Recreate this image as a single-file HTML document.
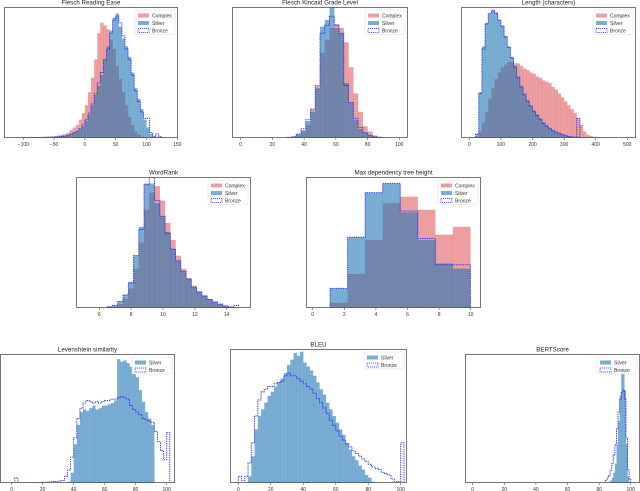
<!DOCTYPE html>
<html><head><meta charset="utf-8"><style>
html,body{margin:0;padding:0;background:#fff;}
svg{display:block;font-family:"Liberation Sans",sans-serif;}
</style></head><body>
<svg id="fig" width="640" height="491" viewBox="0 0 640 491"></svg>
<script>
// ---- data (bin heights as fraction of axis height) ----
const freStart=-100, freWidth=5;
const freComplex=[.005,.005,.005,.005,.005,.007,.008,.01,.01,.012,.015,.02,.025,.03,.04,.06,.08,.1,.14,.19,.25,.35,.46,.6,.8,.88,.86,.83,.75,.68,.55,.45,.35,.25,.16,.1,.05,.025,.01,.005,.003];
const freSilver=[0,0,0,0,0,0,.002,.003,.004,.006,.008,.01,.012,.015,.02,.03,.04,.05,.07,.09,.13,.18,.25,.33,.4,.48,.6,.7,.82,.92,.95,.85,.76,.7,.62,.5,.38,.3,.22,.14,.08,.03,.01,.005];
const freBronze=[.003,.003,.003,.003,.004,.004,.005,.005,.006,.007,.008,.01,.012,.015,.02,.03,.04,.05,.07,.1,.14,.19,.26,.34,.42,.5,.6,.68,.8,.9,.93,.88,.78,.68,.6,.48,.36,.28,.2,.15,.15,.04,.01,.03,.01];

const fkStart=29, fkWidth=3;
const fkComplex=[.005,.01,.02,.05,.1,.22,.4,.65,.75,.84,.87,.84,.73,.54,.34,.2,.09,.05,.02,.01,.005];
const fkSilver=[.005,.01,.03,.06,.13,.2,.38,.85,.9,1.0,.84,.8,.42,.27,.14,.07,.04,.02,.01,.005];
const fkBronze=[.005,.01,.03,.07,.14,.22,.4,.8,.86,.93,.86,.8,.4,.27,.15,.08,.04,.02,.01,.005];

const lenStart=0, lenWidth=10;
const lenComplex=[0,0,.01,.05,.12,.2,.3,.38,.45,.5,.54,.56,.58,.58,.57,.57,.55,.53,.52,.5,.49,.47,.46,.44,.43,.42,.39,.37,.34,.31,.28,.25,.22,.19,.15,.1,.05,.025,.015,.01,.008,.005,.004,.003,.002,.001];
const lenSilver=[0,0,.03,.35,.7,.88,.95,.98,.96,.9,.86,.78,.7,.62,.55,.47,.4,.34,.29,.25,.21,.18,.15,.12,.1,.08,.06,.05,.04,.03,.02,.015,.01,.008,.005];
const lenBronze=[0,0,.03,.34,.68,.87,.95,.97,.95,.9,.85,.77,.69,.61,.54,.46,.39,.33,.28,.24,.2,.17,.14,.11,.09,.07,.055,.045,.035,.025,.018,.012,.009,.006,.15];

const wrStart=6.5, wrWidth=0.33;
const wrComplex=[.005,.01,.03,.07,.15,.3,.5,.75,.88,.93,.82,.65,.52,.4,.3,.23,.17,.13,.1,.07,.05,.03,.02,.01,.005];
const wrSilver=[.01,.02,.05,.1,.2,.4,.62,.95,.95,.8,.7,.58,.45,.36,.28,.22,.16,.12,.09,.065,.045,.03,.015,.008,.004];
const wrBronze=[.01,.02,.05,.1,.19,.4,.6,.94,1.0,.82,.7,.57,.45,.36,.28,.22,.16,.12,.09,.065,.045,.03,.015,.008,.02];

const mdStart=1.1, mdWidth=1.11;
const mdComplex=[.04,.26,.52,.8,.85,.75,.56,.62];
const mdSilver=[.15,.54,.88,.95,.73,.52,.34,.3];
const mdBronze=[.15,.54,.88,.95,.74,.53,.33,.33];

const levStart=36, levWidth=2;
const levSilver=[.01,.08,.3,.45,.55,.57,.56,.58,.6,.57,.58,.6,.6,.61,.62,.64,.96,.94,.95,.93,.9,.86,.82,.72,.63,.55,.5,.45];
const levBStart=0, levBWidth=2;
const levBronze=[.002,.04,0,0,0,0,0,0,0,.002,.005,.006,.008,.01,.012,.015,.02,.05,.1,.2,.35,.5,.58,.62,.64,.63,.62,.63,.62,.63,.64,.64,.65,.65,.66,.67,.66,.65,.6,.57,.55,.53,.5,.49,.48,.47,.4,.32,.25,.18,.39];

const bleuStart=6, bleuWidth=2;
const bleuSilver=[.05,.2,.4,.5,.55,.6,.65,.68,.72,.75,.78,.82,.88,.92,.97,.95,.98,.9,.87,.84,.8,.75,.7,.66,.6,.55,.5,.45,.4,.36,.3,.25,.2,.17,.13,.1,.06,.04,.01];
const bleuBStart=0, bleuBWidth=2;
const bleuBronze=[.05,.02,.05,.15,.3,.5,.62,.68,.7,.72,.72,.74,.75,.76,.8,.82,.8,.8,.78,.76,.74,.72,.7,.67,.63,.6,.56,.52,.47,.43,.39,.35,.32,.29,.27,.24,.22,.2,.18,.16,.14,.12,.11,.1,.08,.07,.06,.03,.01,.01,.3];

const bsStart=84, bsWidth=1;
const bsSilver=[0,0,.01,.02,.04,.08,.15,.3,.48,.68,.88,.95,.72,.3,.05];
const bsBronze=[.02,.04,.06,.1,.15,.22,.3,.42,.55,.65,.7,.72,.65,.35,.1,.03];

// ---- drawing ----
const NS='http://www.w3.org/2000/svg';
const svg=document.getElementById('fig');
const C_RED='rgba(214,39,40,0.45)', C_BLUE='rgba(31,119,180,0.6)';
function mk(tag,attrs,parent){const e=document.createElementNS(NS,tag);for(const k in attrs)e.setAttribute(k,attrs[k]);(parent||svg).appendChild(e);return e;}

function chart(cfg){
  const g=mk('g',{});
  
  
  const sx=v=>cfg.xp0+(v-cfg.xv0)*(cfg.xp1-cfg.xp0)/(cfg.xv1-cfg.xv0);
  const sy=f=>cfg.y1-f*(cfg.y1-cfg.y0);
  // clip
  const cid='c'+cfg.name;
  const cp=mk('clipPath',{id:cid},g);mk('rect',{x:cfg.x0,y:cfg.y0,width:cfg.x1-cfg.x0,height:cfg.y1-cfg.y0},cp);
  const body=mk('g',{'clip-path':'url(#'+cid+')'},g);
  cfg.series.forEach(s=>{
    if(s.kind==='fill'){
      const sg=mk('g',{fill:s.color},body);
      
      
      s.data.forEach((v,i)=>{
        if(v<=0)return;
        const a=sx(s.start+i*s.width), b=sx(s.start+(i+1)*s.width);
        const r=mk('rect',{x:a.toFixed(2),y:sy(v).toFixed(2),width:(b-a+0.15).toFixed(2),height:(cfg.y1-sy(v)).toFixed(2)},sg);
        
        
      });
    } else {
      let d='M'+sx(s.start).toFixed(2)+','+cfg.y1;
      s.data.forEach((v,i)=>{
        d+=' L'+sx(s.start+i*s.width).toFixed(2)+','+sy(v).toFixed(2)+' L'+sx(s.start+(i+1)*s.width).toFixed(2)+','+sy(v).toFixed(2);
      });
      d+=' L'+sx(s.start+s.data.length*s.width).toFixed(2)+','+cfg.y1;
      const p=mk('path',{d:d,fill:'none',stroke:'#2a2aff','stroke-width':'0.9','stroke-dasharray':'1.4,0.9'},body);
      
      
    }
  });
  // frame
  const fr=mk('rect',{x:cfg.x0+0.5,y:cfg.y0+0.5,width:cfg.x1-cfg.x0-1,height:cfg.y1-cfg.y0-1,fill:'none',stroke:'#555','stroke-width':'0.8'},g);
  
  
  // title
  const t=mk('text',{x:(cfg.x0+cfg.x1)/2,y:cfg.y0-2.5,'text-anchor':'middle','font-size':'6.2',fill:'#222'},g);
  t.textContent=cfg.title;
  
  
  // ticks
  cfg.ticks.forEach(v=>{
    const x=sx(v);
    const tk=mk('line',{x1:x,x2:x,y1:cfg.y1,y2:cfg.y1+2,stroke:'#555','stroke-width':'0.6'},g);
    
    
    const tl=mk('text',{x:x,y:cfg.y1+8,'text-anchor':'middle','font-size':'5',fill:'#333'},g);
    tl.textContent=(v<0?'\u2212'+(-v):String(v));
    
    
  });
  // legend
  const n=cfg.series.length;
  const lw=40, lh=n*7.5+2, lx=cfg.x1-lw-3, ly=cfg.y0+3;
  const lg=mk('g',{},g);
  
  
  mk('rect',{x:lx,y:ly,width:lw,height:lh,fill:'rgba(255,255,255,0.85)',stroke:'#ddd','stroke-width':'0.5',rx:1},lg);
  cfg.series.forEach((s,i)=>{
    const yy=ly+2+i*7.5;
    const e=mk('g',{},lg);
    
    
    if(s.kind==='fill') mk('rect',{x:lx+3,y:yy+1.5,width:11,height:4,fill:s.color},e);
    else mk('rect',{x:lx+3,y:yy+1.5,width:11,height:4,fill:'none',stroke:'#2a2aff','stroke-width':'0.7','stroke-dasharray':'1.2,0.8'},e);
    const tx=mk('text',{x:lx+17,y:yy+5.6,'font-size':'5',fill:'#333'},e);
    tx.textContent=s.label;
  });
}
const S=(label,kind,color,start,width,data)=>({label,kind,color,start,width,data});

chart({name:'flesch-reading-ease-chart',title:'Flesch Reading Ease',x0:4,x1:178,y0:7,y1:138,xv0:-100,xp0:23.3,xv1:150,xp1:177.3,ticks:[-100,-50,0,50,100,150],
  series:[S('Complex','fill',C_RED,freStart,freWidth,freComplex),S('Silver','fill',C_BLUE,freStart,freWidth,freSilver),S('Bronze','line','',freStart,freWidth,freBronze)]});
chart({name:'flesch-kincaid-chart',title:'Flesch Kincaid Grade Level',x0:232,x1:408,y0:7,y1:138,xv0:0,xp0:240.7,xv1:100,xp1:399.3,ticks:[0,20,40,60,80,100],
  series:[S('Complex','fill',C_RED,fkStart,fkWidth,fkComplex),S('Silver','fill',C_BLUE,fkStart,fkWidth,fkSilver),S('Bronze','line','',fkStart,fkWidth,fkBronze)]});
chart({name:'length-chart',title:'Length (characters)',x0:461,x1:636,y0:7,y1:138,xv0:0,xp0:469.3,xv1:500,xp1:627.3,ticks:[0,100,200,300,400,500],
  series:[S('Complex','fill',C_RED,lenStart,lenWidth,lenComplex),S('Silver','fill',C_BLUE,lenStart,lenWidth,lenSilver),S('Bronze','line','',lenStart,lenWidth,lenBronze)]});
chart({name:'wordrank-chart',title:'WordRank',x0:76,x1:251,y0:177,y1:308,xv0:6,xp0:99.3,xv1:14,xp1:226.7,ticks:[6,8,10,12,14],
  series:[S('Complex','fill',C_RED,wrStart,wrWidth,wrComplex),S('Silver','fill',C_BLUE,wrStart,wrWidth,wrSilver),S('Bronze','line','',wrStart,wrWidth,wrBronze)]});
chart({name:'max-dependency-tree-height-chart',title:'Max dependency tree height',x0:306,x1:481,y0:177,y1:308,xv0:0,xp0:312.7,xv1:10,xp1:470.7,ticks:[0,2,4,6,8,10],
  series:[S('Complex','fill',C_RED,mdStart,mdWidth,mdComplex),S('Silver','fill',C_BLUE,mdStart,mdWidth,mdSilver),S('Bronze','line','',mdStart,mdWidth,mdBronze)]});
chart({name:'levenshtein-similarity-chart',title:'Levenshtein similarity',x0:0,x1:175,y0:354,y1:483,xv0:0,xp0:11.7,xv1:100,xp1:166.7,ticks:[0,20,40,60,80,100],
  series:[S('Silver','fill',C_BLUE,levStart,levWidth,levSilver),S('Bronze','line','',levBStart,levBWidth,levBronze)]});
chart({name:'bleu-chart',title:'BLEU',x0:230,x1:407,y0:349,y1:483,xv0:0,xp0:238.3,xv1:100,xp1:400.7,ticks:[0,20,40,60,80,100],
  series:[S('Silver','fill',C_BLUE,bleuStart,bleuWidth,bleuSilver),S('Bronze','line','',bleuBStart,bleuBWidth,bleuBronze)]});
chart({name:'bertscore-chart',title:'BERTScore',x0:465,x1:640,y0:354,y1:483,xv0:0,xp0:472.7,xv1:100,xp1:630.7,ticks:[0,20,40,60,80,100],
  series:[S('Silver','fill',C_BLUE,bsStart,bsWidth,bsSilver),S('Bronze','line','',bsStart,bsWidth,bsBronze)]});
</script>
</body></html>
